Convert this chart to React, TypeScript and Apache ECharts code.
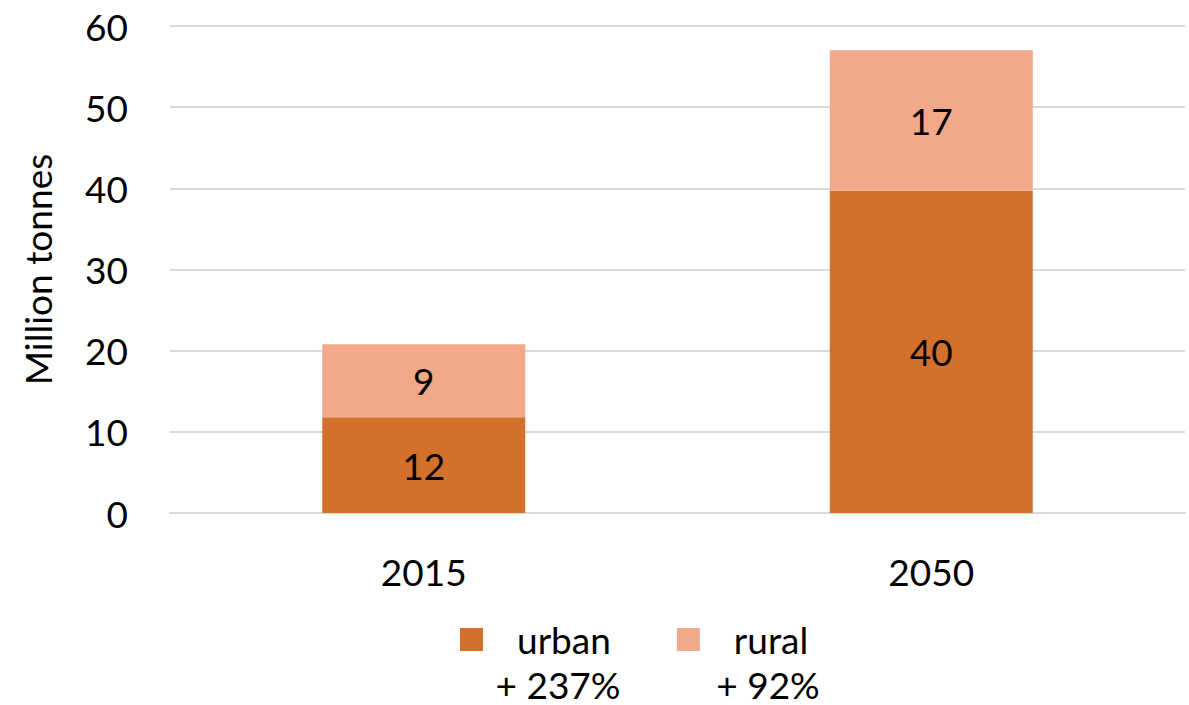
import React, { useEffect, useRef } from "react";
import * as echarts from "echarts";

const categories = ["2015", "2050"];
const urban = [11.8, 39.7];
const rural = [9.0, 17.3];
const seriesNames = ["urban", "rural"];
const legendNotes = ["+ 237%", "+ 92%"];
const yTicks = { min: 0, max: 60, interval: 10 };

const FONT = "Lato, 'Open Sans', sans-serif";
const FS = 37;

export default function App() {
  const ref = useRef<HTMLDivElement>(null);
  useEffect(() => {
    if (!ref.current) return;
    const chart = echarts.init(ref.current, undefined, { renderer: "svg" });
    const label = {
      show: true,
      position: "inside",
      color: "#000",
      fontSize: FS,
      fontFamily: FONT,
      formatter: (p: any) => String(Math.round(p.value)),
    };
    chart.setOption({
      animation: false,
      textStyle: { fontFamily: FONT },
      grid: { left: 170, right: 4, top: 26, bottom: 192 },
      legend: {
        data: seriesNames,
        left: 455,
        top: 616,
        itemWidth: 23,
        itemHeight: 23,
        itemGap: 66,
        icon: "rect",
        textStyle: { fontSize: FS, color: "#000", fontFamily: FONT, padding: [0, 0, 0, 29] },
      },
      xAxis: {
        type: "category",
        data: categories,
        axisLine: { show: true, lineStyle: { color: "#d9d9d9", width: 2 } },
        axisTick: { show: false },
        axisLabel: { fontSize: FS, color: "#000", margin: 40, fontFamily: FONT },
      },
      yAxis: {
        type: "value",
        min: yTicks.min,
        max: yTicks.max,
        interval: yTicks.interval,
        name: "Million tonnes",
        nameLocation: "middle",
        nameGap: 114,
        nameTextStyle: { fontSize: FS, color: "#000", fontFamily: FONT },
        axisLabel: { fontSize: FS, color: "#000", margin: 42, fontFamily: FONT },
        axisLine: { show: false },
        axisTick: { show: false },
        splitLine: { lineStyle: { color: "#d9d9d9", width: 2 } },
      },
      series: [
        {
          name: seriesNames[0],
          type: "bar",
          stack: "total",
          data: urban,
          barWidth: "40%",
          itemStyle: { color: "#D2702C" },
          label,
        },
        {
          name: seriesNames[1],
          type: "bar",
          stack: "total",
          data: rural,
          barWidth: "40%",
          itemStyle: { color: "#F1A98A" },
          label,
        },
      ],
      graphic: [
        {
          type: "text",
          x: 558,
          y: 684,
          style: { text: legendNotes[0], fontSize: FS, fill: "#000", fontFamily: FONT, align: "center", verticalAlign: "middle" },
        },
        {
          type: "text",
          x: 768,
          y: 684,
          style: { text: legendNotes[1], fontSize: FS, fill: "#000", fontFamily: FONT, align: "center", verticalAlign: "middle" },
        },
      ],
    });
    return () => chart.dispose();
  }, []);
  return (
    <div
      ref={ref}
      style={{ position: "fixed", left: 0, top: 0, width: 1189, height: 705, background: "#fff" }}
    />
  );
}
